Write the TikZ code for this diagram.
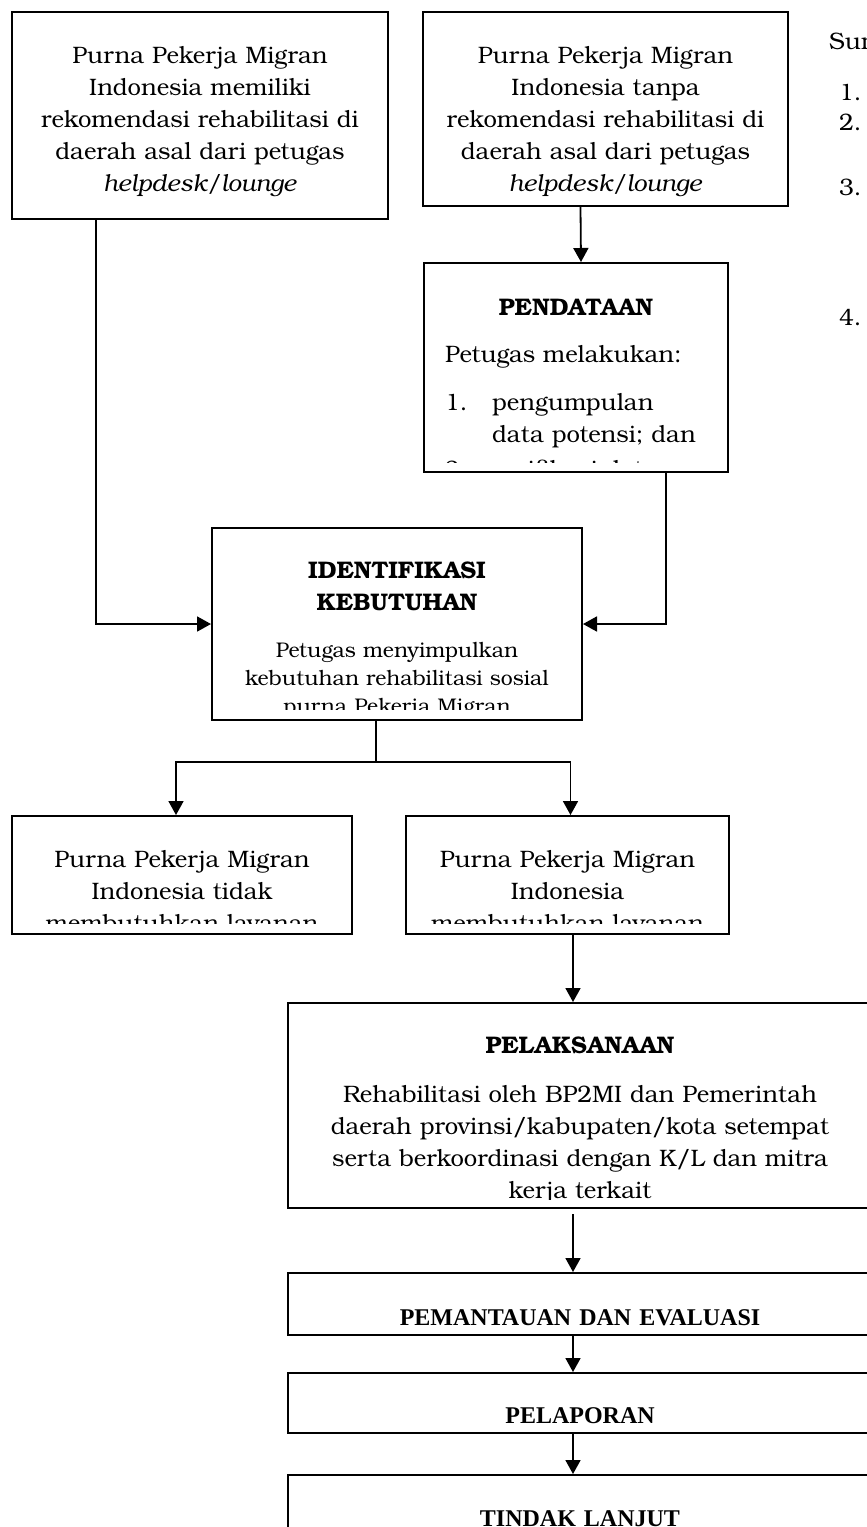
\documentclass[tikz,border=0pt]{standalone}
\usepackage{fontspec}
\setmainfont{TeX Gyre Bonum}
\newfontfamily\timesfont{Liberation Serif}
\usetikzlibrary{arrows.meta}

\newcommand\isifont{\fontsize{23.8}{32}\selectfont}
\newcommand\kecilfont{\fontsize{21.2}{28}\selectfont}
\newcommand\judulfont{\fontsize{24}{32}\selectfont\bfseries}
\newcommand\timesjudul{\timesfont\fontsize{24}{30}\selectfont\bfseries}

\begin{document}
\begin{tikzpicture}[x=1pt, y=-1pt,
    kotak/.style={draw, line width=2pt, inner sep=0pt},
    isi/.style={inner sep=0pt, font=\isifont},
    tengah/.style={isi, align=center, text width=340pt, anchor=base},
    panah/.style={-{Triangle[length=14pt,width=15pt]}, line width=1.8pt}]
    \useasboundingbox (0,0) rectangle (867,1527);
    \clip (0,0) rectangle (867,1527);

    % kotak-kotak
    \node[kotak, minimum width=376pt, minimum height=207pt] (a) at (200,115.5) {};
    \node[kotak, minimum width=365pt, minimum height=194pt] (b) at (605.5,109) {};
    \node[kotak, minimum width=304pt, minimum height=209pt] (c) at (576,367.5) {};
    \node[kotak, minimum width=370pt, minimum height=192pt] (d) at (397,624) {};
    \node[kotak, minimum width=340pt, minimum height=118pt] (e1) at (182,875) {};
    \node[kotak, minimum width=323pt, minimum height=118pt] (e2) at (567.5,875) {};
    \node[kotak, minimum width=584pt, minimum height=205pt] (f) at (580,1105.5) {};
    \node[kotak, minimum width=584pt, minimum height=62pt] (g) at (580,1304) {};
    \node[kotak, minimum width=584pt, minimum height=60pt] (h) at (580,1403) {};
    \node[kotak, minimum width=584pt, minimum height=125pt] (i) at (580,1537.5) {};

    % teks
    \node[tengah] (ateks) at (200,63) {Purna Pekerja Migran\\Indonesia memiliki\\rekomendasi rehabilitasi di\\daerah asal dari petugas\\\textit{helpdesk/lounge}};
    \node[tengah] (bteks) at (605.5,63) {Purna Pekerja Migran\\Indonesia tanpa\\rekomendasi rehabilitasi di\\daerah asal dari petugas\\\textit{helpdesk/lounge}};

    \node[tengah, font=\judulfont] (cjudul) at (576,315) {PENDATAAN};
    \node[isi, anchor=base west] (cteks) at (445,362) {Petugas melakukan:};
    \begin{scope}
        \clip (424,263) rectangle (728,462);
        \node[isi, anchor=base west] (c1) at (445,410) {1.};
        \node[isi, anchor=base west, align=left, text width=220pt] (c1teks) at (492,410) {pengumpulan\\data potensi; dan};
        \node[isi, anchor=base west] (c2) at (445,477) {2.};
        \node[isi, anchor=base west] (c2teks) at (492,477) {verifikasi data.};
    \end{scope}

    \node[tengah, font=\judulfont] (djudul) at (397,578) {IDENTIFIKASI\\KEBUTUHAN};
    \begin{scope}
        \clip (212,528) rectangle (582,709);
        \node[tengah, font=\kecilfont] (dteks) at (397,657) {Petugas menyimpulkan\\kebutuhan rehabilitasi sosial\\purna Pekerja Migran};
    \end{scope}

    \begin{scope}
        \clip (12,816) rectangle (729,923);
        \node[tengah] (e1teks) at (182,867) {Purna Pekerja Migran\\Indonesia tidak\\membutuhkan layanan};
        \node[tengah] (e2teks) at (567.5,867) {Purna Pekerja Migran\\Indonesia\\membutuhkan layanan};
    \end{scope}

    \node[tengah, font=\judulfont] (fjudul) at (580,1053) {PELAKSANAAN};
    \begin{scope}
        \clip (288,1003) rectangle (872,1199);
        \node[tengah, text width=560pt] (fteks) at (580,1102) {Rehabilitasi oleh BP2MI dan Pemerintah\\daerah provinsi/kabupaten/kota setempat\\serta berkoordinasi dengan K/L dan mitra\\kerja terkait};
    \end{scope}

    \node[tengah, text width=560pt, font=\timesjudul] (gjudul) at (580,1325) {PEMANTAUAN DAN EVALUASI};
    \node[tengah, text width=560pt, font=\timesjudul] (hjudul) at (580,1423) {PELAPORAN};
    \node[tengah, text width=560pt, font=\timesjudul] (ijudul) at (580,1526) {TINDAK LANJUT};

    % teks di kanan
    \node[isi, anchor=base west] (sum) at (829,49) {Sum};
    \foreach \n/\yy in {1/100,2/130,3/195,4/325}
        \node[isi, anchor=base west] (no\n) at (839,\yy) {\n.};

    % panah
    \coordinate (jalur) at (573,0);
    \draw[panah] ([xshift=85pt]a.south west) |- (d.west);
    \draw[panah] ([xshift=-25pt]b.south) -- ([xshift=5pt]c.north);
    \draw[panah] ([xshift=90pt]c.south) |- (d.east);
    \draw[line width=1.8pt] ([xshift=-21pt]d.south) -- ++(0,41) coordinate (cabang);
    \draw[panah] (cabang) -| ([xshift=-6pt]e1.north);
    \draw[panah] (cabang) -| ([xshift=3pt]e2.north);
    \draw[panah] (e2.south -| jalur) -- (f.north -| jalur);
    \draw[panah] (f.south -| jalur) ++(0,5) -- (g.north -| jalur);
    \draw[panah] (g.south -| jalur) -- (h.north -| jalur);
    \draw[panah] (h.south -| jalur) -- (i.north -| jalur);
\end{tikzpicture}
\end{document}
